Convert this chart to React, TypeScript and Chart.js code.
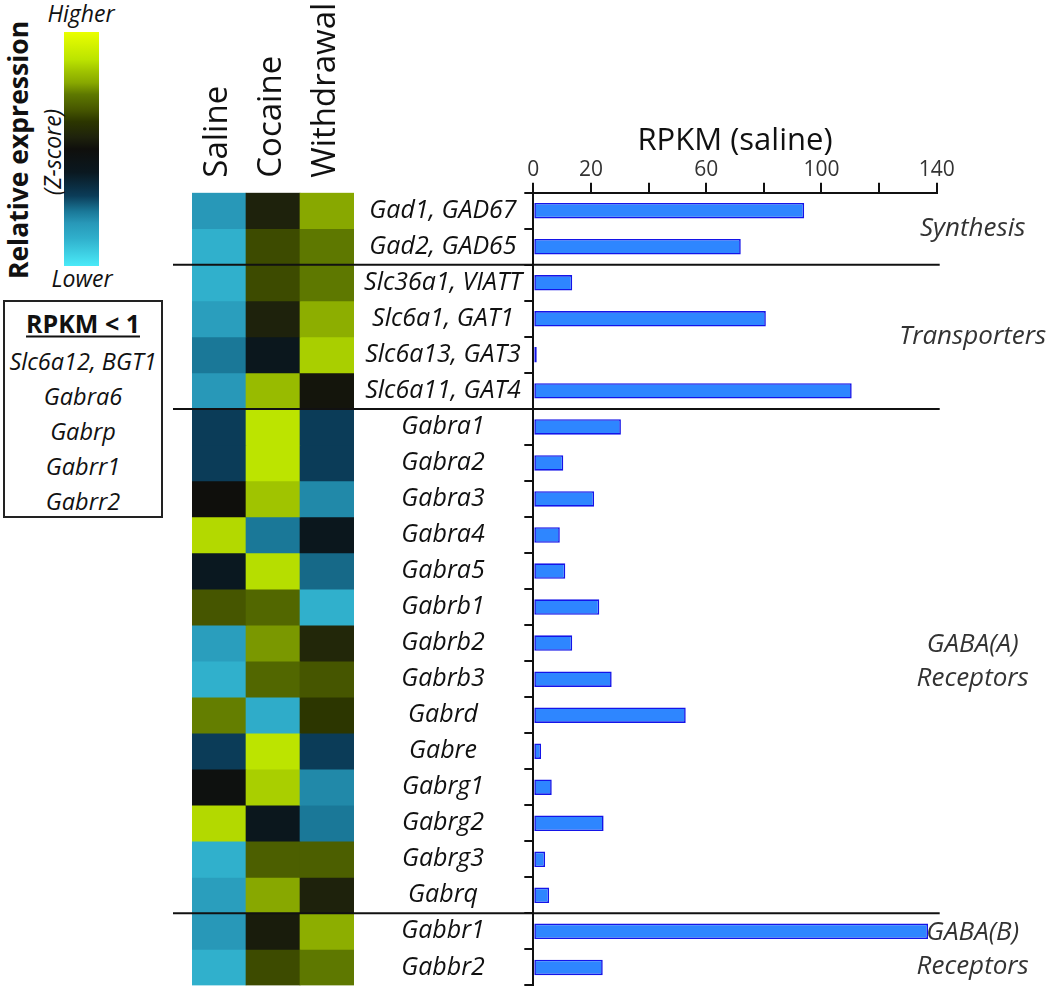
import React, { useEffect, useRef } from "react";
import { Chart, registerables } from "chart.js";
Chart.register(...registerables);

const FONT = "'Open Sans', sans-serif";
Chart.defaults.font.family = FONT;

// ---------- data ----------
const genes = [
  "Gad1, GAD67", "Gad2, GAD65", "Slc36a1, VIATT", "Slc6a1, GAT1", "Slc6a13, GAT3", "Slc6a11, GAT4",
  "Gabra1", "Gabra2", "Gabra3", "Gabra4", "Gabra5", "Gabrb1", "Gabrb2", "Gabrb3", "Gabrd", "Gabre",
  "Gabrg1", "Gabrg2", "Gabrg3", "Gabrq", "Gabbr1", "Gabbr2",
];
const rpkmSaline = [94, 72, 13.5, 80.7, 1.2, 110.5, 30.4, 10.4, 21.1, 9.2, 11.1, 22.9, 13.5, 27.2, 52.9, 2.7, 6.4, 24.4, 4.1, 5.5, 137, 24.1];

const conditions = ["Saline", "Cocaine", "Withdrawal"];
const zSaline = [-0.95, -1.15, -1.15, -1.0, -0.8, -0.95, -0.6, -0.6, 0.0, 1.1, -0.3, 0.5, -1.0, -1.15, 0.72, -0.6, -0.05, 1.1, -1.15, -1.0, -0.95, -1.15];
const zCocaine = [0.15, 0.45, 0.45, 0.15, -0.25, 0.95, 1.15, 1.15, 1.0, -0.8, 1.12, 0.6, 0.8, 0.6, -1.12, 1.15, 1.05, -0.25, 0.55, 0.85, 0.1, 0.45];
const zWithdrawal = [0.85, 0.7, 0.7, 0.88, 1.05, 0.05, -0.6, -0.6, -0.88, -0.25, -0.75, -1.15, 0.2, 0.5, 0.35, -0.6, -0.88, -0.8, 0.55, 0.15, 0.88, 0.7];

const xTickLabels = [0, 20, 60, 100, 140];

const groupLabels = [["Synthesis"], ["Transporters"], ["GABA(A)", "Receptors"], ["GABA(B)", "Receptors"]];
const groupStarts = [0, 2, 6, 20];
const groupEnds = [1, 5, 19, 21];

const lowRpkmGenes = ["Slc6a12, BGT1", "Gabra6", "Gabrp", "Gabrr1", "Gabrr2"];

// colour map: z-score -> colour
const zStops = [-1.5, -1.15, -0.95, -0.8, -0.6, -0.3, 0, 0.15, 0.35, 0.5, 0.7, 0.85, 1.0, 1.15, 1.5];
const zColors = ["#4aeaf8", "#30b0cc", "#2898b8", "#1a7898", "#0b3c58", "#0a1820", "#0f0f0c", "#1e220c", "#2c3600", "#465600", "#5e7800", "#88a800", "#a0c400", "#bce400", "#eaff00"];

function hexToRgb(h: string) {
  const n = parseInt(h.slice(1), 16);
  return [(n >> 16) & 255, (n >> 8) & 255, n & 255];
}
function zToColor(z: number) {
  const zc = Math.max(zStops[0], Math.min(zStops[zStops.length - 1], z));
  for (let i = 0; i < zStops.length - 1; i++) {
    if (zc <= zStops[i + 1]) {
      const t = (zc - zStops[i]) / (zStops[i + 1] - zStops[i]);
      const a = hexToRgb(zColors[i]);
      const b = hexToRgb(zColors[i + 1]);
      const c = a.map((v, k) => Math.round(v + (b[k] - v) * t));
      return `rgb(${c[0]},${c[1]},${c[2]})`;
    }
  }
  return zColors[zColors.length - 1];
}

// ---------- layout constants ----------
const W = 1050;
const H = 987;
const PLOT_LEFT = 533.3;
const PLOT_RIGHT = 936.7;
const PLOT_TOP = 192.7;
const PLOT_BOTTOM = 985.4;
const LABEL_CENTER = 443;
const Y_TICK_LEN = 9;
const GENE_FONT = 25;
const HEADER_GAP = 15;

const groupPlugin = {
  id: "groups",
  afterDraw(chart: any) {
    const { ctx, scales } = chart;
    const x = scales.x;
    const y = scales.y;
    ctx.save();
    ctx.strokeStyle = "#111";
    ctx.lineWidth = 2;
    groupStarts.slice(1).forEach((s) => {
      const py = (y.getPixelForValue(s - 1) + y.getPixelForValue(s)) / 2;
      ctx.beginPath();
      ctx.moveTo(173, py);
      ctx.lineTo(x.getPixelForValue(140) + 3, py);
      ctx.stroke();
    });
    ctx.fillStyle = "#333";
    ctx.font = `italic 26px ${FONT}`;
    ctx.textAlign = "center";
    ctx.textBaseline = "middle";
    groupLabels.forEach((lines, i) => {
      const cy = (y.getPixelForValue(groupStarts[i]) + y.getPixelForValue(groupEnds[i])) / 2;
      const lh = 34;
      lines.forEach((t, j) => {
        ctx.fillText(t, x.right + 36, cy + (j - (lines.length - 1) / 2) * lh);
      });
    });
    ctx.restore();
  },
};

const headerPlugin = {
  id: "headers",
  afterDraw(chart: any) {
    const { ctx, scales, chartArea } = chart;
    const x = scales.x;
    ctx.save();
    ctx.fillStyle = "#111";
    ctx.font = `33px ${FONT}`;
    ctx.textAlign = "left";
    ctx.textBaseline = "middle";
    conditions.forEach((c, i) => {
      ctx.save();
      ctx.translate(x.getPixelForValue(i) - 1, chartArea.top - HEADER_GAP);
      ctx.rotate(-Math.PI / 2);
      ctx.fillText(c, 0, 0);
      ctx.restore();
    });
    ctx.restore();
  },
};

function Txt(props: { x: number; y: number; size: number; text: string; italic?: boolean; bold?: boolean; rotate?: boolean; color?: string; underline?: boolean }) {
  const { x, y, size, text, italic, bold, rotate, color, underline } = props;
  return (
    <div
      style={{
        position: "absolute",
        left: x,
        top: y,
        transform: `translate(-50%, -50%)${rotate ? " rotate(-90deg)" : ""}`,
        whiteSpace: "nowrap",
        fontFamily: FONT,
        fontSize: size,
        fontStyle: italic ? "italic" : "normal",
        fontWeight: bold ? 700 : 400,
        color: color || "#111",
        lineHeight: 1,
        textDecoration: underline ? "underline" : "none",
        textUnderlineOffset: 3,
        textDecorationThickness: 2,
      }}
    >
      {text}
    </div>
  );
}

function noPad(s: any) {
  s.paddingLeft = 0;
  s.paddingRight = 0;
  s.paddingTop = 0;
  s.paddingBottom = 0;
}

export default function App() {
  const heatRef = useRef<HTMLCanvasElement>(null);
  const barRef = useRef<HTMLCanvasElement>(null);

  useEffect(() => {
    // heatmap
    const heat = new Chart(heatRef.current!, {
      type: "bar",
      data: {
        labels: conditions,
        datasets: genes.map((g, r) => ({
          label: g,
          data: conditions.map(() => [r, r + 1]) as any,
          backgroundColor: [zSaline[r], zCocaine[r], zWithdrawal[r]].map(zToColor),
          borderWidth: 0,
          barPercentage: 1,
          categoryPercentage: 1,
          grouped: false,
        })),
      },
      options: {
        animation: false,
        responsive: false,
        maintainAspectRatio: false,
        layout: { padding: { left: 12, right: 16, top: PLOT_TOP, bottom: H - PLOT_BOTTOM } },
        plugins: { legend: { display: false }, tooltip: { enabled: false } },
        scales: {
          x: { type: "category", display: false },
          y: { type: "linear", min: 0, max: genes.length, reverse: true, display: false },
        },
      } as any,
      plugins: [headerPlugin],
    });

    // measure widest gene label to centre the labels in the label column
    const mctx = document.createElement("canvas").getContext("2d")!;
    mctx.font = `italic ${GENE_FONT}px ${FONT}`;
    const widest = Math.max(...genes.map((g) => mctx.measureText(g).width));
    const labelPad = PLOT_LEFT - LABEL_CENTER - Y_TICK_LEN - widest / 2;

    const bars = new Chart(barRef.current!, {
      type: "bar",
      data: {
        labels: genes,
        datasets: [
          {
            data: rpkmSaline,
            backgroundColor: "#2e86ff",
            borderColor: "#1414e8",
            borderWidth: 1.6,
            borderSkipped: false,
            barPercentage: 0.43,
            categoryPercentage: 1,
          },
        ],
      },
      options: {
        indexAxis: "y",
        animation: false,
        responsive: false,
        maintainAspectRatio: false,
        layout: { padding: { left: 0, top: 0, right: W - PLOT_RIGHT, bottom: H - PLOT_BOTTOM } },
        plugins: { legend: { display: false }, tooltip: { enabled: false } },
        scales: {
          x: {
            type: "linear",
            position: "top",
            min: 0,
            max: 140,
            ticks: {
              stepSize: 20,
              autoSkip: false,
              maxRotation: 0,
              padding: 0,
              color: "#333",
              font: { size: 21 },
              callback: (v: any) => (xTickLabels.includes(Number(v)) ? String(v) : ""),
            },
            grid: { drawOnChartArea: false, drawTicks: true, tickLength: 10, color: "#111", lineWidth: 2 },
            border: { display: true, color: "#111", width: 2 },
            title: { display: true, text: "RPKM (saline)", color: "#111", font: { size: 31 }, padding: { top: 123, bottom: 0 } },
            afterFit: (s: any) => {
              s.height = PLOT_TOP;
              noPad(s);
            },
          },
          y: {
            type: "category",
            ticks: {
              crossAlign: "center",
              padding: labelPad,
              autoSkip: false,
              color: "#111",
              font: { size: GENE_FONT, style: "italic" },
            },
            grid: { offset: true, drawOnChartArea: false, drawTicks: true, tickLength: Y_TICK_LEN, color: "#111", lineWidth: 2 },
            border: { display: true, color: "#111", width: 2 },
            afterFit: (s: any) => {
              s.width = PLOT_LEFT;
              noPad(s);
            },
          },
        },
      } as any,
      plugins: [groupPlugin],
    });

    return () => {
      heat.destroy();
      bars.destroy();
    };
  }, []);

  // colour bar gradient built from the same colour map (top = high)
  const zMin = zStops[0];
  const zMax = zStops[zStops.length - 1];
  const gradient = `linear-gradient(to bottom, ${zStops
    .map((z, i) => ({ z, c: zColors[i] }))
    .reverse()
    .map(({ z, c }) => `${c} ${(((zMax - z) / (zMax - zMin)) * 100).toFixed(1)}%`)
    .join(", ")})`;

  return (
    <div style={{ position: "fixed", left: 0, top: 0, width: W, height: H, background: "#fff", overflow: "hidden" }}>
      {/* colour scale */}
      <div style={{ position: "absolute", left: 64, top: 32, width: 35, height: 234, background: gradient }} />
      <Txt x={81} y={13} size={23} text="Higher" italic />
      <Txt x={82} y={278} size={23} text="Lower" italic />
      <Txt x={18} y={150} size={26.5} text="Relative expression" bold rotate />
      <Txt x={52} y={152} size={23} text="(Z-score)" italic rotate />

      {/* RPKM < 1 box */}
      <div style={{ position: "absolute", left: 3, top: 300, width: 156, height: 214, border: "2px solid #222" }} />
      <Txt x={83} y={323} size={25} text="RPKM < 1" bold underline />
      {lowRpkmGenes.map((g, i) => (
        <Txt key={g} x={83} y={362 + i * 35} size={23.5} text={g} italic />
      ))}

      <canvas ref={heatRef} width={190} height={H} style={{ position: "absolute", left: 180, top: 0 }} />
      <canvas ref={barRef} width={W} height={H} style={{ position: "absolute", left: 0, top: 0 }} />
    </div>
  );
}
